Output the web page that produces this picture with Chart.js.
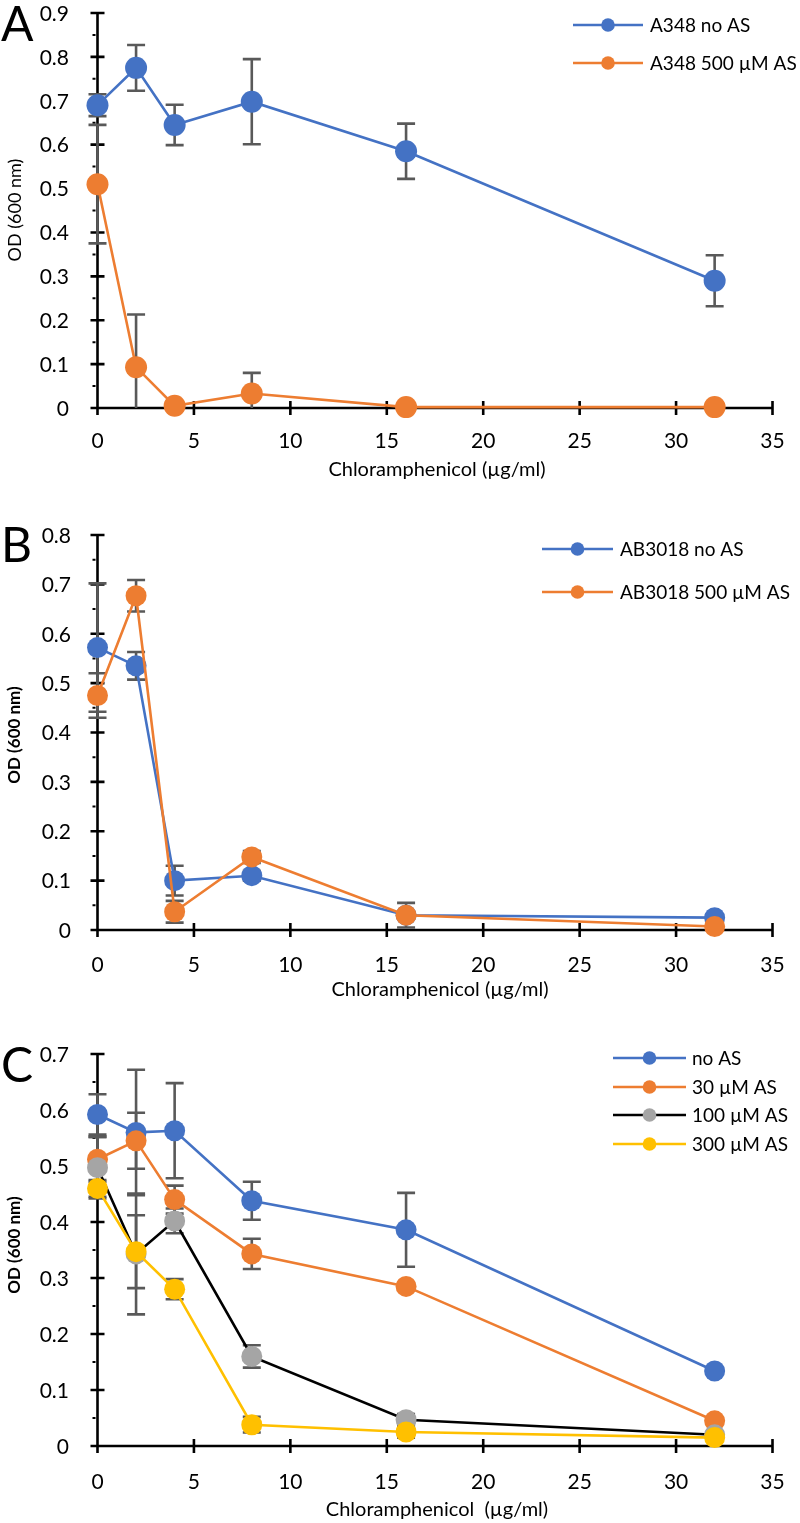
<!DOCTYPE html>
<html>
<head>
<meta charset="utf-8">
<script src="https://cdn.jsdelivr.net/npm/chart.js@4.4.1/dist/chart.umd.min.js"></script>
<style>
  html, body { margin: 0; padding: 0; background: #fff; }
  .panel { position: absolute; left: 0; width: 800px; }
  canvas { display: block; }
</style>
</head>
<body>
<div class="panel" style="top:0px;height:490px"><canvas id="cA" width="800" height="490"></canvas></div>
<div class="panel" style="top:490px;height:520px"><canvas id="cB" width="800" height="520"></canvas></div>
<div class="panel" style="top:1010px;height:513px"><canvas id="cC" width="800" height="513"></canvas></div>
<script>
// ---------- data ----------
const conc = [0, 2, 4, 8, 16, 32];
const xTickLabels = ['0', '5', '10', '15', '20', '25', '30', '35'];

// Panel A
const aTickLabels = ['0', '0.1', '0.2', '0.3', '0.4', '0.5', '0.6', '0.7', '0.8', '0.9'];
const aNoAS     = [0.690, 0.775, 0.645, 0.698, 0.585, 0.290];
const aNoASErr  = [0.025, 0.052, 0.046, 0.097, 0.063, 0.058];
const a500      = [0.510, 0.093, 0.005, 0.033, 0.002, 0.002];
const a500Err   = [0.135, 0.120, 0.004, 0.047, 0.002, 0.002];

// Panel B
const bTickLabels = ['0', '0.1', '0.2', '0.3', '0.4', '0.5', '0.6', '0.7', '0.8'];
const bNoAS     = [0.572, 0.535, 0.100, 0.110, 0.030, 0.025];
const bNoASErr  = [0.130, 0.028, 0.030, 0.010, 0.025, 0.004];
const b500      = [0.475, 0.677, 0.037, 0.148, 0.030, 0.007];
const b500Err   = [0.045, 0.032, 0.022, 0.012, 0.004, 0.003];

// Panel C
const cTickLabels = ['0', '0.1', '0.2', '0.3', '0.4', '0.5', '0.6', '0.7'];
const cNoAS     = [0.592, 0.560, 0.563, 0.438, 0.386, 0.134];
const cNoASErr  = [0.036, 0.112, 0.085, 0.034, 0.066, 0.004];
const c30       = [0.512, 0.545, 0.440, 0.343, 0.285, 0.045];
const c30Err    = [0.040, 0.050, 0.025, 0.027, 0.004, 0.004];
const c100      = [0.497, 0.343, 0.402, 0.160, 0.047, 0.020];
const c100Err   = [0.055, 0.108, 0.022, 0.020, 0.010, 0.004];
const c300      = [0.460, 0.347, 0.280, 0.038, 0.025, 0.015];
const c300Err   = [0.015, 0.065, 0.018, 0.014, 0.010, 0.004];

// ---------- styling ----------
const BLUE = '#4472C4', ORANGE = '#ED7D31', GREY = '#A5A5A5', YELLOW = '#FFC000', BLACK = '#000000';
const ERR = '#595959';
const FONT = 'Lato, "Liberation Sans", sans-serif';

function pts(vals) { return conc.map((c, i) => ({ x: c, y: vals[i] })); }

const decor = {
  id: 'decor',
  beforeDatasetsDraw(chart, args, o) {
    const ctx = chart.ctx, xs = chart.scales.x, ys = chart.scales.y;
    const yVals = o.yTicks.map(parseFloat);
    const xVals = xTickLabels.map(parseFloat);
    const x0 = xs.getPixelForValue(0), y0 = ys.getPixelForValue(0);
    const yTop = ys.getPixelForValue(yVals[yVals.length - 1]);
    const xR = xs.getPixelForValue(xVals[xVals.length - 1]);
    ctx.save();
    ctx.strokeStyle = '#000';
    ctx.lineCap = 'butt';
    ctx.lineWidth = 2.6;
    ctx.beginPath();
    ctx.moveTo(x0, yTop - 1); ctx.lineTo(x0, y0);
    ctx.moveTo(x0 - 1, y0); ctx.lineTo(xR + 1, y0);
    yVals.forEach(v => { const y = ys.getPixelForValue(v); ctx.moveTo(x0 - 7, y); ctx.lineTo(x0 + 7, y); });
    xVals.forEach(v => { const x = xs.getPixelForValue(v); ctx.moveTo(x, y0 - 7); ctx.lineTo(x, y0 + 7); });
    ctx.stroke();
    // minor ticks (left of axis)
    ctx.lineWidth = 2;
    ctx.beginPath();
    for (let i = 0; i < yVals.length - 1; i++) {
      const y = ys.getPixelForValue((yVals[i] + yVals[i + 1]) / 2);
      ctx.moveTo(x0 - 5, y); ctx.lineTo(x0 - 2, y);
    }
    ctx.stroke();
    // error bars
    ctx.strokeStyle = ERR;
    ctx.lineWidth = 2.6;
    o.errors.forEach(s => {
      s.vals.forEach((v, j) => {
        const e = s.err[j];
        const x = xs.getPixelForValue(conc[j]);
        const hi = v + e, lo = Math.max(0, v - e);
        const yh = ys.getPixelForValue(hi), yl = ys.getPixelForValue(lo);
        ctx.beginPath();
        ctx.moveTo(x, yh); ctx.lineTo(x, yl);
        ctx.moveTo(x - 9, yh); ctx.lineTo(x + 9, yh);
        if (v - e > 0) { ctx.moveTo(x - 9, yl); ctx.lineTo(x + 9, yl); }
        ctx.stroke();
      });
    });
    ctx.restore();
  },
  afterDraw(chart, args, o) {
    const ctx = chart.ctx, xs = chart.scales.x, ys = chart.scales.y;
    ctx.save();
    ctx.fillStyle = '#000';
    // y tick labels
    ctx.font = '21px ' + FONT;
    ctx.textAlign = 'right'; ctx.textBaseline = 'middle';
    o.yTicks.forEach(t => ctx.fillText(t, o.yLabelRight, ys.getPixelForValue(parseFloat(t)) + 1));
    // x tick labels
    ctx.textAlign = 'center';
    xTickLabels.forEach(t => ctx.fillText(t, xs.getPixelForValue(parseFloat(t)), o.xLabelY));
    // x title
    ctx.font = '20px ' + FONT;
    ctx.fillText(o.xTitle, o.xTitleX, o.xTitleY);
    // y title
    ctx.save();
    ctx.translate(o.yTitleX, o.yTitleY);
    ctx.rotate(-Math.PI / 2);
    ctx.font = o.yTitleFont;
    ctx.fillText('OD (600 nm)', 0, 0);
    ctx.restore();
    // panel letter
    ctx.font = '48px ' + FONT;
    ctx.textAlign = 'left'; ctx.textBaseline = 'alphabetic';
    ctx.fillText(o.letter, 1, o.letterY);
    // legend
    ctx.font = o.legendFont;
    ctx.textBaseline = 'middle';
    chart.data.datasets.forEach((ds, i) => {
      const y = o.legend.y[i];
      ctx.strokeStyle = ds.borderColor;
      ctx.lineWidth = 2.6;
      ctx.beginPath(); ctx.moveTo(o.legend.x1, y); ctx.lineTo(o.legend.x2, y); ctx.stroke();
      ctx.fillStyle = ds.pointBackgroundColor;
      ctx.beginPath(); ctx.arc((o.legend.x1 + o.legend.x2) / 2, y, 6.8, 0, Math.PI * 2); ctx.fill();
      ctx.fillStyle = '#000';
      ctx.fillText(ds.label, o.legend.tx, y + 1);
    });
    ctx.restore();
  }
};

function ds(label, vals, lineColor, markColor, order, r) {
  return {
    label, data: pts(vals), showLine: true,
    borderColor: lineColor, borderWidth: 2.6,
    pointBackgroundColor: markColor, pointBorderColor: markColor, pointBorderWidth: 0,
    pointRadius: r, pointHoverRadius: r, clip: false, order
  };
}

function makeChart(id, H, top, bottomY, ymax, datasets, opts) {
  return new Chart(document.getElementById(id), {
    type: 'scatter',
    data: { datasets },
    options: {
      responsive: false, animation: false, events: [],
      layout: { padding: { left: 97.5, right: 800 - 772.5, top: top, bottom: H - bottomY } },
      scales: {
        x: { type: 'linear', min: 0, max: 35, display: false },
        y: { type: 'linear', min: 0, max: ymax, display: false }
      },
      plugins: { legend: { display: false }, tooltip: { enabled: false }, decor: opts }
    },
    plugins: [decor]
  });
}

// Panel A
makeChart('cA', 490, 13, 408, 0.9, [
  ds('A348 no AS', aNoAS, BLUE, BLUE, 2, 11),
  ds('A348 500 µM AS', a500, ORANGE, ORANGE, 1, 11)
], {
  yTicks: aTickLabels, yLabelRight: 69, xLabelY: 441,
  xTitle: 'Chloramphenicol (µg/ml)', xTitleX: 437, xTitleY: 470,
  yTitleX: 15, yTitleY: 210, yTitleFont: '18px ' + FONT,
  letter: 'A', letterY: 41,
  legendFont: '19px ' + FONT,
  legend: { x1: 573, x2: 643, tx: 650, y: [25, 63] },
  errors: [{ vals: aNoAS, err: aNoASErr }, { vals: a500, err: a500Err }]
});

// Panel B
makeChart('cB', 520, 45, 440, 0.8, [
  ds('AB3018 no AS', bNoAS, BLUE, BLUE, 2, 10.5),
  ds('AB3018 500 µM AS', b500, ORANGE, ORANGE, 1, 10.5)
], {
  yTicks: bTickLabels, yLabelRight: 71, xLabelY: 475,
  xTitle: 'Chloramphenicol (µg/ml)', xTitleX: 440, xTitleY: 500,
  yTitleX: 15, yTitleY: 245, yTitleFont: 'bold 17px ' + FONT,
  letter: 'B', letterY: 72,
  legendFont: '19px ' + FONT,
  legend: { x1: 542, x2: 613, tx: 620, y: [59, 102] },
  errors: [{ vals: bNoAS, err: bNoASErr }, { vals: b500, err: b500Err }]
});

// Panel C
makeChart('cC', 513, 44, 436, 0.7, [
  ds('no AS', cNoAS, BLUE, BLUE, 4, 10.5),
  ds('30 µM AS', c30, ORANGE, ORANGE, 3, 10.5),
  ds('100 µM AS', c100, BLACK, GREY, 2, 10.5),
  ds('300 µM AS', c300, YELLOW, YELLOW, 1, 10.5)
], {
  yTicks: cTickLabels, yLabelRight: 69, xLabelY: 472,
  xTitle: 'Chloramphenicol  (µg/ml)', xTitleX: 437, xTitleY: 500,
  yTitleX: 15, yTitleY: 235, yTitleFont: 'bold 17px ' + FONT,
  letter: 'C', letterY: 72,
  legendFont: '19px ' + FONT,
  legend: { x1: 613, x2: 686, tx: 692, y: [48, 77, 105, 134] },
  errors: [{ vals: cNoAS, err: cNoASErr }, { vals: c30, err: c30Err }, { vals: c100, err: c100Err }, { vals: c300, err: c300Err }]
});
</script>
</body>
</html>
